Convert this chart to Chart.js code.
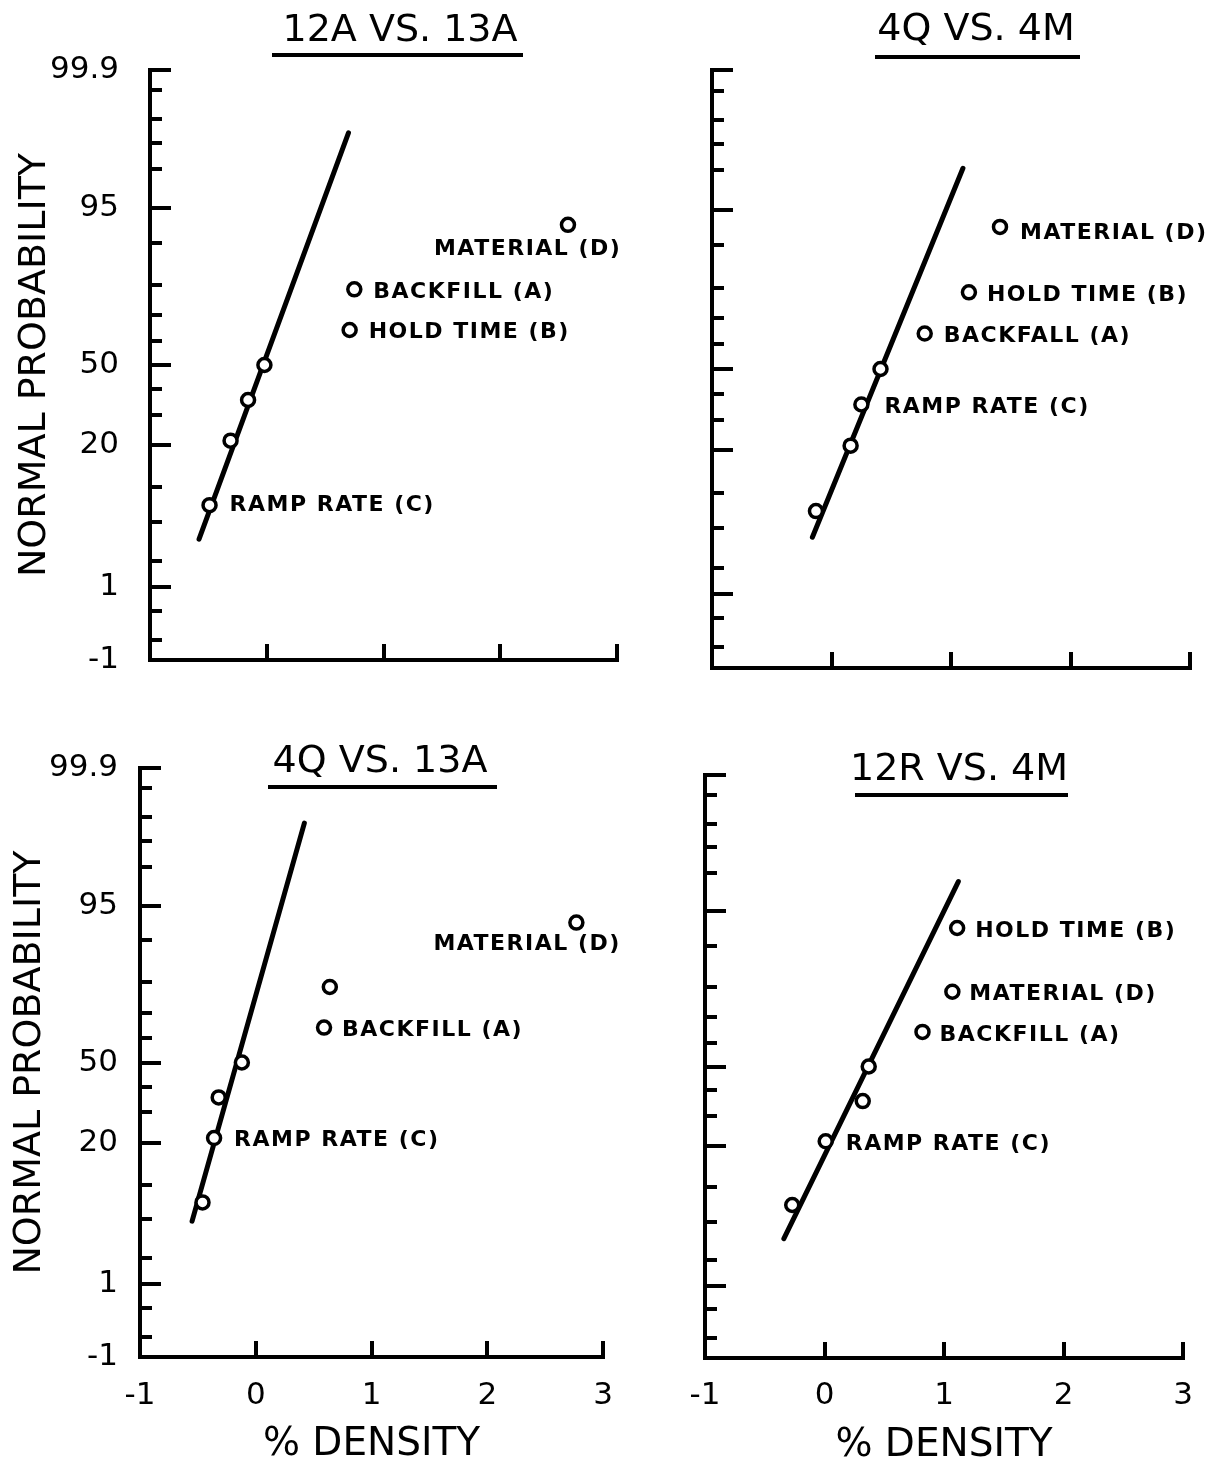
<!DOCTYPE html>
<html>
<head>
<meta charset="utf-8">
<script src="https://cdn.jsdelivr.net/npm/chart.js@4.4.1/dist/chart.umd.min.js"></script>
<style>
  html, body { margin: 0; padding: 0; background: #fff; }
  body { position: relative; width: 1216px; height: 1469px; overflow: hidden; }
  canvas { position: absolute; }
</style>
</head>
<body>
<canvas id="tl" width="640" height="700" style="left:0px;top:0px"></canvas>
<canvas id="tr" width="576" height="700" style="left:640px;top:0px"></canvas>
<canvas id="bl" width="640" height="749" style="left:0px;top:720px"></canvas>
<canvas id="br" width="576" height="749" style="left:640px;top:720px"></canvas>
<script>
// normal probability plotting positions (%), same for every panel
const probPct = [7.1, 21.4, 35.7, 50, 64.3, 78.6, 92.9]

// y axis: labelled ticks and the minor ticks of the probability paper
const yTickPct = [0.1, 1, 20, 50, 95, 99.9]
const yTickLabels = ['-1', '1', '20', '50', '95', '99.9']
const yMinorPct = [0.2, 0.5, 2, 5, 10, 30, 40, 60, 70, 80, 90, 98, 99, 99.5, 99.8]
const xTicks = [-1, 0, 1, 2, 3]

// % density effects
const xs12A13A = [-0.49, -0.31, -0.16, -0.02, 0.71, 0.75, 2.58]
const tags12A13A = ['RAMP RATE (C)', '', '', '', 'HOLD TIME (B)', 'BACKFILL (A)', 'MATERIAL (D)']
const fit12A13AX = [-0.58, 0.70]
const fit12A13AP = [3.4, 99.25]

const xs4Q4M = [-0.13, 0.16, 0.25, 0.41, 0.78, 1.15, 1.41]
const tags4Q4M = ['', '', 'RAMP RATE (C)', '', 'BACKFALL (A)', 'HOLD TIME (B)', 'MATERIAL (D)']
const fit4Q4MX = [-0.16, 1.10]
const fit4Q4MP = [4.1, 98.1]

const xs4Q13A = [-0.46, -0.36, -0.32, -0.12, 0.59, 0.64, 2.77]
const tags4Q13A = ['', 'RAMP RATE (C)', '', '', 'BACKFILL (A)', '', 'MATERIAL (D)']
const fit4Q13AX = [-0.55, 0.42]
const fit4Q13AP = [4.8, 99.4]

const xs12R4M = [-0.27, 0.01, 0.32, 0.37, 0.82, 1.07, 1.11]
const tags12R4M = ['', 'RAMP RATE (C)', '', '', 'BACKFILL (A)', 'MATERIAL (D)', 'HOLD TIME (B)']
const fit12R4MX = [-0.34, 1.12]
const fit12R4MP = [3.4, 97.5]

// inverse normal cdf (Acklam), turns a percentage into a probit position
function probit(p) {
  const a = [-39.69683028665376, 220.9460984245205, -275.9285104469687, 138.3577518672690, -30.66479806614716, 2.506628277459239]
  const b = [-54.47609879822406, 161.5858368580409, -155.6989798598866, 66.80131188771972, -13.28068155288572]
  const c = [-0.007784894002430293, -0.3223964580411365, -2.400758277161838, -2.549732539343734, 4.374664141464968, 2.938163982698783]
  const d = [0.007784695709041462, 0.3224671290700398, 2.445134137142996, 3.754408661907416]
  const lo = 0.02425
  let q, r
  if (p < lo) {
    q = Math.sqrt(-2 * Math.log(p))
    return (((((c[0]*q+c[1])*q+c[2])*q+c[3])*q+c[4])*q+c[5]) / ((((d[0]*q+d[1])*q+d[2])*q+d[3])*q+1)
  }
  if (p > 1 - lo) {
    q = Math.sqrt(-2 * Math.log(1 - p))
    return -(((((c[0]*q+c[1])*q+c[2])*q+c[3])*q+c[4])*q+c[5]) / ((((d[0]*q+d[1])*q+d[2])*q+d[3])*q+1)
  }
  q = p - 0.5
  r = q * q
  return (((((a[0]*r+a[1])*r+a[2])*r+a[3])*r+a[4])*r+a[5])*q / (((((b[0]*r+b[1])*r+b[2])*r+b[3])*r+b[4])*r+1)
}
const z = pct => probit(pct / 100)

const FONT = '"DejaVu Sans", sans-serif'
const BLACK = '#000'

// title with underline
const headPlugin = {
  id: 'head',
  afterDraw(chart, args, o) {
    const ctx = chart.ctx
    ctx.save()
    ctx.fillStyle = BLACK
    ctx.strokeStyle = BLACK
    ctx.font = '38px ' + FONT
    ctx.textAlign = 'center'
    ctx.textBaseline = 'middle'
    ctx.fillText(o.text, o.x, o.y)
    ctx.lineWidth = 4
    ctx.beginPath()
    ctx.moveTo(o.u0, o.uy)
    ctx.lineTo(o.u1, o.uy)
    ctx.stroke()
    ctx.restore()
  }
}

// factor names next to the points
const tagPlugin = {
  id: 'tags',
  afterDatasetsDraw(chart, args, o) {
    const ctx = chart.ctx
    const pts = chart.getDatasetMeta(1).data
    ctx.save()
    ctx.fillStyle = BLACK
    ctx.font = 'bold 22px ' + FONT
    ctx.letterSpacing = '1.5px'
    ctx.textAlign = 'left'
    ctx.textBaseline = 'middle'
    o.tags.forEach((t, i) => {
      if (!t) return
      const off = o.offsets[i]
      ctx.fillText(t, pts[i].x + off[0], pts[i].y + off[1])
    })
    ctx.restore()
  }
}

const panels = [
  { id: 'tl', title: '12A VS. 13A', xs: xs12A13A, tags: tags12A13A, fitX: fit12A13AX, fitP: fit12A13AP,
    offsets: [[20, 0], [0, 0], [0, 0], [0, 0], [19, 2], [19, 3], [-134, 24]],
    showY: true, showX: false,
    pad: { left: 0, top: 70, right: 23, bottom: 0 }, yW: 150, xH: 40, yPad: 52, yTitlePad: 12, xPad: 36, xTitlePad: 1,
    head: { x: 400, y: 31, u0: 272, u1: 523, uy: 55 } },
  { id: 'tr', title: '4Q VS. 4M', xs: xs4Q4M, tags: tags4Q4M, fitX: fit4Q4MX, fitP: fit4Q4MP,
    offsets: [[0, 0], [0, 0], [23, 3], [0, 0], [19, 3], [18, 3], [20, 6]],
    showY: false, showX: false,
    pad: { left: 0, top: 70, right: 26, bottom: 0 }, yW: 72, xH: 32, yPad: 0, yTitlePad: 0, xPad: 36, xTitlePad: 0,
    head: { x: 336, y: 30, u0: 235, u1: 440, uy: 57 } },
  { id: 'bl', title: '4Q VS. 13A', xs: xs4Q13A, tags: tags4Q13A, fitX: fit4Q13AX, fitP: fit4Q13AP,
    offsets: [[0, 0], [20, 2], [0, 0], [0, 0], [18, 3], [0, 0], [-143, 22]],
    showY: true, showX: true,
    pad: { left: 0, top: 48, right: 37, bottom: 0 }, yW: 140, xH: 112, yPad: 43, yTitlePad: 7, xPad: 36, xTitlePad: 1,
    head: { x: 380, y: 42, u0: 268, u1: 497, uy: 67 } },
  { id: 'br', title: '12R VS. 4M', xs: xs12R4M, tags: tags12R4M, fitX: fit12R4MX, fitP: fit12R4MP,
    offsets: [[0, 0], [20, 3], [0, 0], [0, 0], [17, 3], [17, 3], [18, 3]],
    showY: false, showX: true,
    pad: { left: 0, top: 55, right: 33, bottom: 0 }, yW: 65, xH: 111, yPad: 0, yTitlePad: 0, xPad: 35, xTitlePad: 0,
    head: { x: 319, y: 50, u0: 215, u1: 428, uy: 75 } },
]

const zMin = z(0.1)
const zMax = z(99.9)

panels.forEach(p => {
  const points = p.xs.map((x, i) => ({ x: x, y: z(probPct[i]) }))
  const fit = p.fitX.map((x, i) => ({ x: x, y: z(p.fitP[i]) }))

  new Chart(document.getElementById(p.id), {
    type: 'scatter',
    data: {
      datasets: [
        {
          data: fit,
          showLine: true,
          borderColor: BLACK,
          borderWidth: 5,
          borderCapStyle: 'round',
          pointRadius: 0,
          order: 2,
        },
        {
          data: points,
          pointRadius: 6.5,
          pointBorderWidth: 3.5,
          pointBorderColor: BLACK,
          pointBackgroundColor: '#fff',
          order: 1,
        },
      ],
    },
    options: {
      responsive: false,
      animation: false,
      layout: { padding: p.pad },
      plugins: {
        legend: { display: false },
        tooltip: { enabled: false },
        head: Object.assign({ text: p.title }, p.head),
        tags: { tags: p.tags, offsets: p.offsets },
      },
      scales: {
        x: {
          type: 'linear',
          position: 'bottom',
          min: -1,
          max: 3,
          afterBuildTicks: s => { s.ticks = xTicks.map(v => ({ value: v })) },
          afterFit: s => { s.height = p.xH; s.paddingLeft = 0; s.paddingRight = 0 },
          border: { display: true, width: 4, color: BLACK },
          grid: { display: true, drawOnChartArea: false, drawTicks: true, tickLength: -16, lineWidth: 4, color: BLACK },
          ticks: {
            display: p.showX, autoSkip: false, maxRotation: 0, padding: p.xPad, color: BLACK,
            font: { family: FONT, size: 31 },
            callback: v => String(v),
          },
          title: {
            display: p.showX, text: '% DENSITY', color: BLACK,
            font: { family: FONT, size: 39 }, padding: { top: 0, bottom: p.xTitlePad },
          },
        },
        y: {
          type: 'linear',
          position: 'left',
          weight: 1,
          min: zMin,
          max: zMax,
          afterBuildTicks: s => { s.ticks = yTickPct.map(v => ({ value: z(v) })) },
          afterFit: s => { s.width = p.yW; s.paddingTop = 0; s.paddingBottom = 0 },
          border: { display: true, width: 4, color: BLACK },
          grid: { display: true, drawOnChartArea: false, drawTicks: true, tickLength: -21, lineWidth: 4, color: BLACK },
          ticks: {
            display: p.showY, autoSkip: false, padding: p.yPad, color: BLACK,
            font: { family: FONT, size: 31 },
            callback: (v, i) => yTickLabels[i],
          },
          title: {
            display: p.showY, text: 'NORMAL PROBABILITY', color: BLACK,
            font: { family: FONT, size: 38 }, padding: { top: p.yTitlePad, bottom: 0 },
          },
        },
        yMinor: {
          type: 'linear',
          position: 'left',
          weight: 0,
          min: zMin,
          max: zMax,
          afterBuildTicks: s => { s.ticks = yMinorPct.map(v => ({ value: z(v) })) },
          afterFit: s => { s.width = 0; s.paddingTop = 0; s.paddingBottom = 0 },
          border: { display: false },
          grid: { display: true, drawOnChartArea: false, drawTicks: true, tickLength: -12, lineWidth: 4, color: BLACK },
          ticks: { display: false, autoSkip: false },
        },
      },
    },
    plugins: [headPlugin, tagPlugin],
  })
})
</script>
</body>
</html>
